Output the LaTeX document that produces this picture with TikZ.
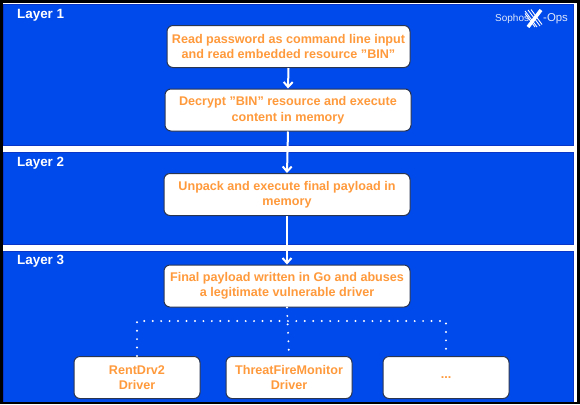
\documentclass[tikz,border=0pt]{standalone}
\usepackage{fontspec}
\setmainfont{Liberation Sans}
\usetikzlibrary{arrows.meta}
\definecolor{panelblue}{HTML}{0049EA}
\definecolor{paneledge}{HTML}{0A36C8}
\definecolor{txtorange}{HTML}{FF9A3C}
\definecolor{boxedge}{HTML}{2A3550}
\tikzset{
  panel/.style={fill=panelblue,draw=paneledge,line width=1bp},
  stepbox/.style={draw=boxedge,fill=white,rounded corners=6bp,line width=1bp,font=\fontsize{12.6bp}{15.5bp}\selectfont\bfseries,text=txtorange,align=center,anchor=center,inner sep=0pt},
  layerlabel/.style={text=white,font=\fontsize{13.4bp}{15bp}\selectfont\bfseries,anchor=west,inner sep=0pt},
  flow/.style={draw=white,line width=2bp,-{Straight Barb[length=5bp,width=9bp,line width=2bp]}},
  dottedlink/.style={draw=white,line width=2.2bp,line cap=round,dash pattern=on 0bp off 8.45bp},
  logotext/.style={text=white!88!panelblue,anchor=west,inner sep=0pt}
}
\begin{document}
\begin{tikzpicture}[x=1bp,y=-1bp]
\useasboundingbox (0,0) rectangle (580,404);
\fill[black] (0,0) rectangle (580,404);
\fill[white] (2.5,3) rectangle (577,402);
\path[panel] (3,4) rectangle (573,145);
\path[panel] (3,152) rectangle (573,244);
\path[panel] (3,251) rectangle (573,402);
\fill[black] (0,402) rectangle (580,404);
\node[layerlabel] (l1) at (17,15.5) {Layer 1};
\node[layerlabel] (l2) at (17,163.5) {Layer 2};
\node[layerlabel] (l3) at (17,261.5) {Layer 3};
\node[stepbox,minimum width=243bp,minimum height=42bp] (a) at (288.5,46.5) {Read password as command line input\\and read embedded resource "BIN"};
\node[stepbox,minimum width=246bp,minimum height=42bp] (b) at (288,110) {Decrypt "BIN" resource and execute\\content in memory};
\node[stepbox,minimum width=246bp,minimum height=42bp] (c) at (287,194.5) {Unpack and execute final payload in\\memory};
\node[stepbox,minimum width=246bp,minimum height=42bp] (d) at (287,286) {Final payload written in Go and abuses\\a legitimate vulnerable driver};
\node[stepbox,minimum width=126bp,minimum height=42bp] (e) at (137,377.5) {RentDrv2\\Driver};
\node[stepbox,minimum width=126bp,minimum height=42bp] (f) at (289,377.5) {ThreatFireMonitor\\Driver};
\node[stepbox,minimum width=126bp,minimum height=42bp] (g) at (446,377.5) {...};
\draw[flow] (a.south) -- (b.north);
\draw[flow] (b.south) -- (c.north);
\draw[flow] (c.south) -- (d.north);
\coordinate (hub) at (288,321);
\draw[dottedlink] (d.south) -- (f.north);
\draw[dottedlink] (e.north) -- (e.north |- hub) -- (g.north |- hub) -- (g.north);
\node[logotext,font=\fontsize{10bp}{12bp}\selectfont] (sophos) at (495,18.5) {Sophos};
\draw[white,line width=.9bp] (525,11) -- (537,27) (528,10) -- (540,26) (531,9.5) -- (542,24.5);
\draw[white,line width=.9bp] (525,13.5) -- (535,27);
\draw[white,line width=3.5bp] (541,10) -- (528,27);
\node[logotext,font=\fontsize{11.4bp}{12bp}\selectfont] (ops) at (543,18.5) {-Ops};
\end{tikzpicture}
\end{document}
